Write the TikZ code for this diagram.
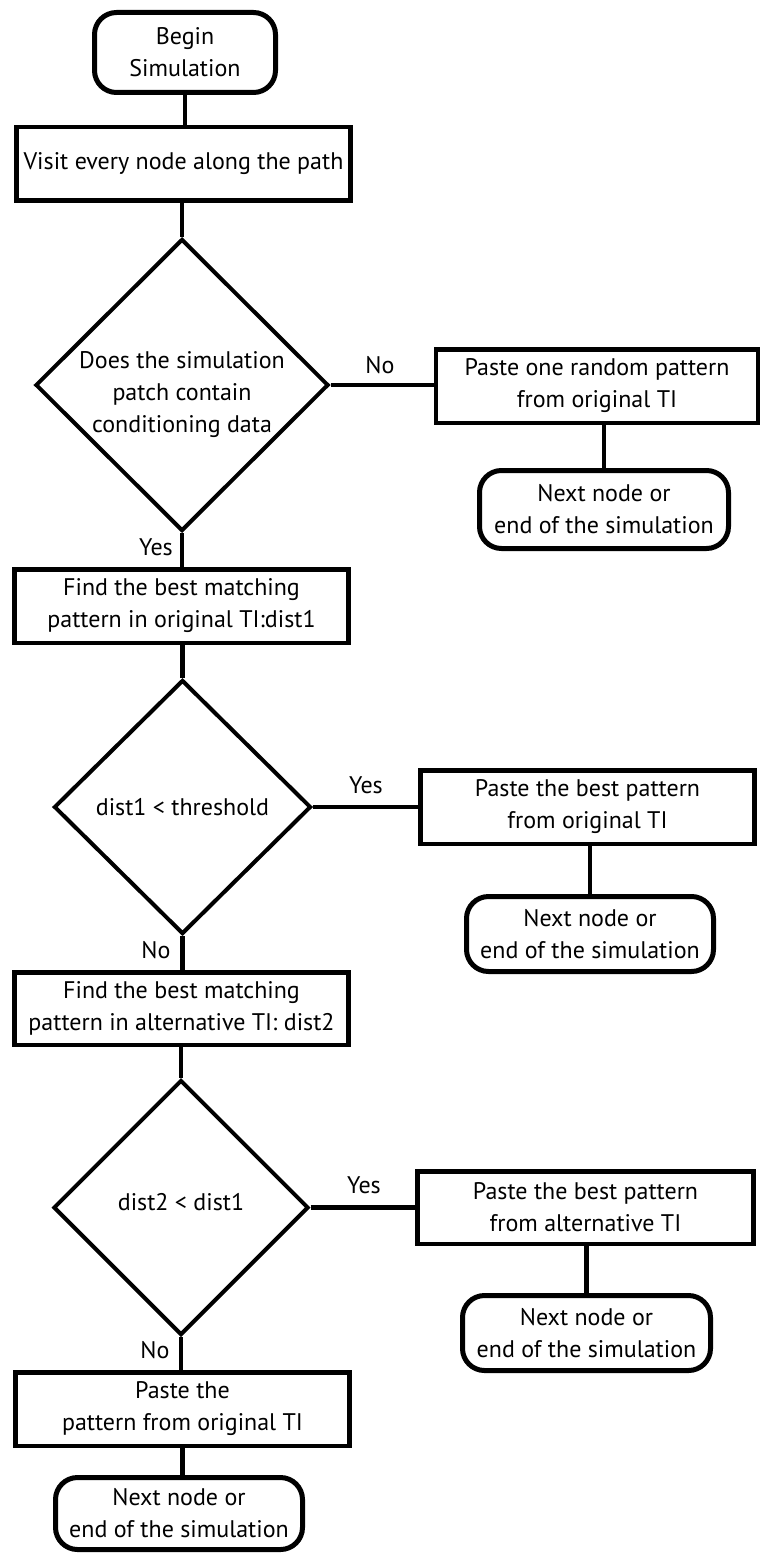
\documentclass[tikz,border=0pt]{standalone}
\usepackage{fontspec}
\setmainfont{PT Sans}
\usetikzlibrary{shapes.geometric}
\begin{document}
\begin{tikzpicture}[x=1pt,y=-1pt,
  every node/.style={font=\fontsize{24}{32}\selectfont, align=center, inner sep=0pt},
  boxnode/.style={draw, line width=4.5pt, rectangle, minimum width=#1},
  boxnode/.default=334pt,
  termnode/.style={draw, line width=5pt, rectangle, rounded corners=22pt, minimum width=248pt, minimum height=76pt},
  decnode/.style={draw, line width=4pt, diamond, inner sep=0pt},
  conn/.style={line width=4.5pt},
  lbl/.style={font=\fontsize{24}{28}\selectfont}
]
\useasboundingbox (0,0) rectangle (760,1554);

% top
\node[termnode, minimum width=181pt, minimum height=80pt] (begin) at (185,52.5) {Begin\\Simulation};
\node[boxnode, minimum height=73.5pt] (visit) at (183.5,164) {Visit every node along the path};

% decision 1
\node[decnode, minimum width=293pt, minimum height=292pt] (d1) at (182,385) {};
\node (d1t) at (182,395) {Does the simulation\\patch contain\\conditioning data};
\node[boxnode=322pt, minimum height=73.5pt] (r1) at (597,386) {Paste one random pattern\\from original TI};
\node[termnode, minimum width=249pt, minimum height=78pt] (t1) at (604,509.5) {Next node or\\end of the simulation};
\node[boxnode, minimum height=73.5pt] (f1) at (181.5,606) {Find the best matching\\pattern in original TI:dist1};

% decision 2
\node[decnode, minimum width=257pt, minimum height=254pt] (d2) at (182.5,807) {};
\node (d2t) at (182.5,807) {dist1 < threshold};
\node[boxnode=334pt, minimum height=73.5pt] (r2) at (587.5,807) {Paste the best pattern\\from original TI};
\node[termnode, minimum width=247pt, minimum height=75pt] (t2) at (590,934) {Next node or\\end of the simulation};
\node[boxnode, minimum height=72.5pt] (f2) at (181.5,1008.5) {Find the best matching\\pattern in alternative TI: dist2};

% decision 3
\node[decnode, minimum width=255pt, minimum height=255pt] (d3) at (181,1207.5) {};
\node (d3t) at (181,1202) {dist2 < dist1};
\node[boxnode=336pt, minimum height=72.5pt] (r3) at (585.5,1207.5) {Paste the best pattern\\from alternative TI};
\node[termnode, minimum width=248pt, minimum height=75pt] (t3) at (586.5,1333) {Next node or\\end of the simulation};
\node[boxnode, minimum height=73.5pt] (p) at (182.5,1409) {Paste the\\pattern from original TI};
\node[termnode, minimum width=247pt, minimum height=72pt] (t4) at (179,1513.5) {Next node or\\end of the simulation};

% connectors
\draw[conn] (begin.south) -- (begin.south |- visit.north);
\draw[conn] (d1.north |- visit.south) -- (d1.north);
\draw[conn] (d1.east) -- (d1.east -| r1.west);
\draw[conn] (r1.south -| t1.north) -- (t1.north);
\draw[conn] (d1.south) -- (d1.south |- f1.north);
\draw[conn] (d2.north |- f1.south) -- (d2.north);
\draw[conn] (d2.east) -- (d2.east -| r2.west);
\draw[conn] (r2.south -| t2.north) -- (t2.north);
\draw[conn] (d2.south) -- (d2.south |- f2.north);
\draw[conn] (d3.north |- f2.south) -- (d3.north);
\draw[conn] (d3.east) -- (d3.east -| r3.west);
\draw[conn] (r3.south -| t3.north) -- (t3.north);
\draw[conn] (d3.south) -- (d3.south |- p.north);
\draw[conn] (p.south) -- (p.south |- t4.north);

% labels
\node[lbl] (l1) at (380,365) {No};
\node[lbl] (l2) at (156,547) {Yes};
\node[lbl] (l3) at (366,785) {Yes};
\node[lbl] (l4) at (156,950) {No};
\node[lbl] (l5) at (364,1185) {Yes};
\node[lbl] (l6) at (155,1350) {No};
\end{tikzpicture}
\end{document}
